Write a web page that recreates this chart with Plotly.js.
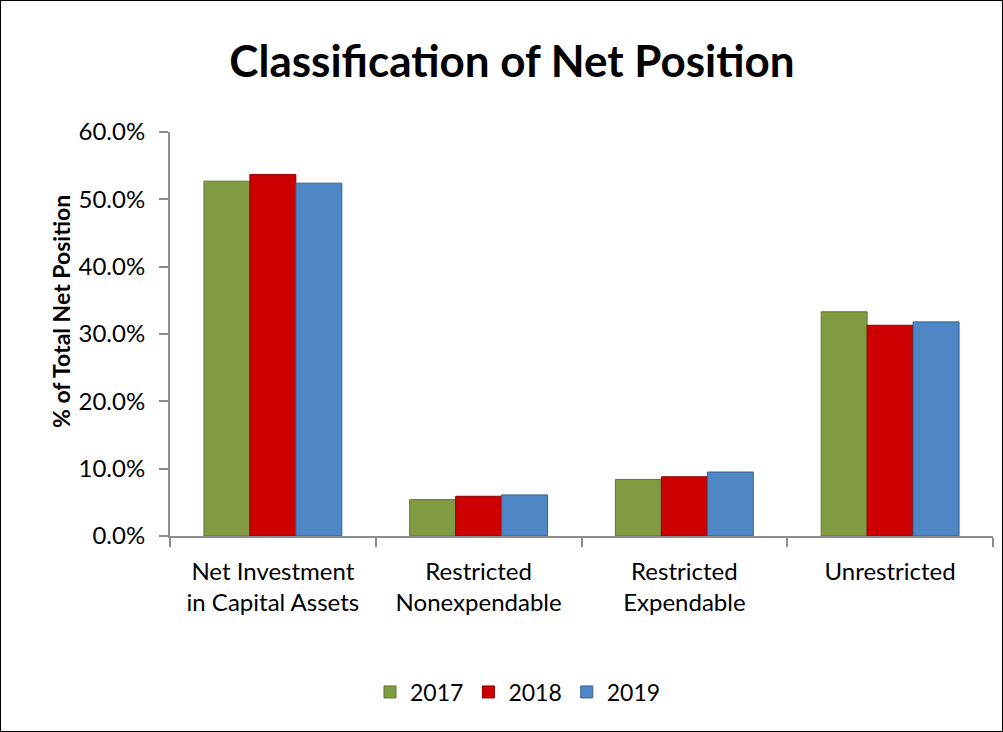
<!DOCTYPE html>
<html>
<head>
<meta charset="utf-8">
<script src="https://cdn.plot.ly/plotly-3.0.1.min.js"></script>
<style>
  html, body { margin: 0; padding: 0; background: #fff; }
  #chart { width: 1001px; height: 730px; border: 1px solid #000; }
</style>
</head>
<body>
<div id="chart"></div>
<script>
const categories = ["Net Investment<br>in Capital Assets", "Restricted<br>Nonexpendable", "Restricted<br>Expendable", "Unrestricted"];
const years = ["2017", "2018", "2019"];
const values2017 = [52.7, 5.4, 8.4, 33.3];
const values2018 = [53.7, 5.9, 8.8, 31.3];
const values2019 = [52.4, 6.1, 9.5, 31.8];
const yTicks = [0, 10, 20, 30, 40, 50, 60];

const fills = ["#819C40", "#CC0000", "#4F86C6"];
const edges = ["#5E7530", "#8E0000", "#36608F"];
const series = [values2017, values2018, values2019];

const FONT = "Lato, 'Open Sans', sans-serif";

const traces = series.map((vals, i) => ({
  type: "bar",
  name: years[i],
  x: categories,
  y: vals,
  marker: { color: fills[i], line: { color: edges[i], width: 1 } },
  hoverinfo: "x+y"
}));

const layout = {
  width: 1001,
  height: 730,
  margin: { l: 169, r: 9, t: 131, b: 195, pad: 0 },
  paper_bgcolor: "#fff",
  plot_bgcolor: "#fff",
  font: { family: FONT, size: 24, color: "#000" },
  title: {
    text: "<b>Classification of Net Position</b>",
    font: { family: FONT, size: 44, color: "#000" },
    x: 511 / 1001, xanchor: "center",
    y: 1 - 61 / 730, yanchor: "middle",
    xref: "container", yref: "container"
  },
  barmode: "group",
  bargap: 0.33,
  bargroupgap: 0,
  showlegend: true,
  legend: {
    orientation: "h",
    x: (517 - 169) / 823, xanchor: "center",
    y: (535 - 691) / 404, yanchor: "middle",
    font: { family: FONT, size: 23, color: "#000" },
    itemwidth: 30,
    tracegroupgap: 0
  },
  xaxis: {
    type: "category",
    showline: true,
    linecolor: "#8c8c8c",
    linewidth: 2,
    ticks: "outside",
    tickson: "boundaries",
    ticklen: 9,
    tickcolor: "#8c8c8c",
    tickwidth: 2,
    ticklabelstandoff: 13,
    showgrid: false,
    zeroline: false,
    tickfont: { family: FONT, size: 24, color: "#000" },
    fixedrange: true
  },
  yaxis: {
    range: [0, 60],
    tickvals: yTicks,
    ticktext: yTicks.map(v => v.toFixed(1) + "%"),
    showline: true,
    linecolor: "#8c8c8c",
    linewidth: 2,
    ticks: "outside",
    ticklen: 9,
    tickcolor: "#8c8c8c",
    tickwidth: 2,
    ticklabelstandoff: 9,
    showgrid: false,
    zeroline: false,
    tickfont: { family: FONT, size: 24, color: "#000" },
    fixedrange: true
  },
  annotations: [{
    text: "<b>% of Total Net Position</b>",
    textangle: -90,
    xref: "paper", yref: "paper",
    x: (60 - 169) / 823, y: (535 - 311) / 404,
    xanchor: "center", yanchor: "middle",
    showarrow: false,
    font: { family: FONT, size: 23, color: "#000" }
  }]
};

Plotly.newPlot("chart", traces, layout, { displayModeBar: false, staticPlot: false });
</script>
</body>
</html>
